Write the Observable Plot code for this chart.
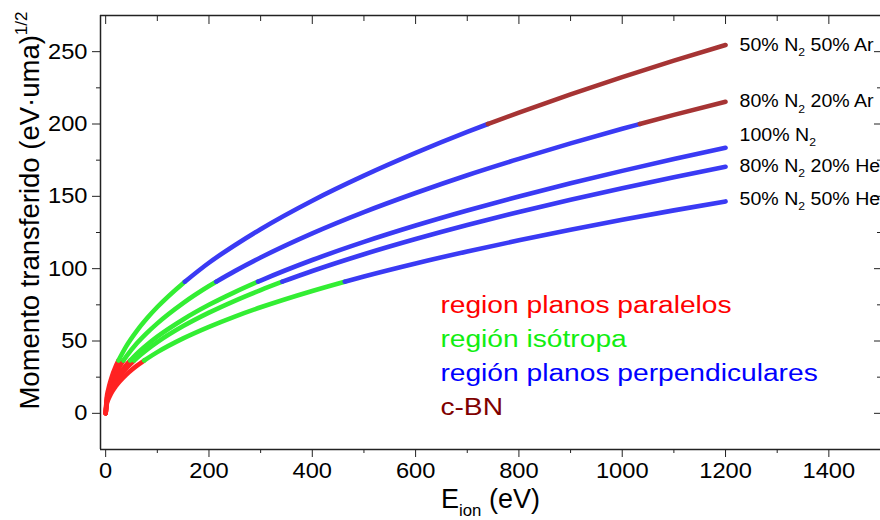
<!DOCTYPE html>
<html>
<head>
<meta charset="utf-8">
<script src="https://cdn.jsdelivr.net/npm/d3@7"></script>
<script src="https://cdn.jsdelivr.net/npm/@observablehq/plot@0.6"></script>
<style>
  body { margin: 0; background: #fff; }
  #chart svg { display: block; }
</style>
</head>
<body>
<div id="chart"></div>
<script>
// ---- data ----
const curveNames = ["50% N_{2} 50% Ar", "80% N_{2} 20% Ar", "100% N_{2}", "80% N_{2} 20% He", "50% N_{2} 50% He"];

const E_50Ar = [0, 2, 5, 10, 20, 24.7, 40, 60, 80, 100, 150, 153.3, 200, 250, 300, 400, 500, 600, 700, 740, 800, 900, 1000, 1100, 1200];
const p_50Ar = [0, 10.4, 16.4, 23.2, 32.9, 36.5, 46.5, 56.9, 65.7, 73.5, 90.0, 91, 104.1, 116.2, 127.3, 147.0, 164.3, 180.0, 194.5, 200, 207.9, 220.5, 232.4, 243.8, 254.6];

const E_20Ar = [0, 2, 5, 10, 20, 34.4, 40, 60, 80, 100, 150, 200, 214, 250, 300, 400, 500, 600, 700, 800, 900, 1000, 1034, 1100, 1200];
const p_20Ar = [0, 8.8, 13.9, 19.7, 27.8, 36.5, 39.3, 48.2, 55.6, 62.2, 76.2, 88.0, 91, 98.3, 107.7, 124.4, 139.1, 152.3, 164.6, 175.9, 186.6, 196.7, 200, 206.3, 215.4];

const E_N2 = [0, 2, 5, 10, 20, 40, 47.4, 60, 80, 100, 150, 200, 250, 294.8, 300, 400, 500, 600, 700, 800, 900, 1000, 1100, 1200];
const p_N2 = [0, 7.5, 11.9, 16.8, 23.7, 33.5, 36.5, 41.1, 47.4, 53.0, 64.9, 75.0, 83.8, 91, 91.8, 106.0, 118.5, 129.8, 140.2, 149.9, 159.0, 167.6, 175.8, 183.6];

const E_20He = [0, 2, 5, 10, 20, 40, 55, 60, 80, 100, 150, 200, 250, 300, 342, 400, 500, 600, 700, 800, 900, 1000, 1100, 1200];
const p_20He = [0, 7.0, 11.0, 15.6, 22.0, 31.1, 36.5, 38.1, 44.0, 49.2, 60.3, 69.6, 77.8, 85.2, 91, 98.4, 110.0, 120.5, 130.2, 139.2, 147.6, 155.6, 163.2, 170.4];

const E_50He = [0, 2, 5, 10, 20, 40, 60, 74.5, 80, 100, 150, 200, 250, 300, 400, 462.8, 500, 600, 700, 800, 900, 1000, 1100, 1200];
const p_50He = [0, 6.0, 9.5, 13.4, 18.9, 26.8, 32.8, 36.5, 37.8, 42.3, 51.8, 59.8, 66.9, 73.3, 84.6, 91, 94.6, 103.6, 111.9, 119.6, 126.9, 133.8, 140.3, 146.5];

const regionNames = ["region planos paralelos", "región isótropa", "región planos perpendiculares", "c-BN"];
const regionLimits = [0, 36.5, 91, 200, 1000];

const xMajorTicks = [0, 200, 400, 600, 800, 1000, 1200, 1400];
const xMinorTicks = [100, 300, 500, 700, 900, 1100, 1300];
const yMajorTicks = [0, 50, 100, 150, 200, 250];
const yMinorTicks = [25, 75, 125, 175, 225];

// ---- styles ----
const lineColors = ["#ff2222", "#33ee33", "#3a3af4", "#a63434"];
const textColors = ["#ff0000", "#11ee11", "#0000ff", "#800000"];
const axisColor = "#222";

const curves = [
  {name: curveNames[0], E: E_50Ar, p: p_50Ar},
  {name: curveNames[1], E: E_20Ar, p: p_20Ar},
  {name: curveNames[2], E: E_N2, p: p_N2},
  {name: curveNames[3], E: E_20He, p: p_20He},
  {name: curveNames[4], E: E_50He, p: p_50He}
];
const rows = curves.flatMap(c => c.E.map((e, i) => ({curve: c.name, E: e, p: c.p[i]})));

const lineMarks = regionNames.map((r, k) =>
  Plot.line(rows.filter(d => d.p >= regionLimits[k] && d.p <= regionLimits[k + 1]), {
    x: "E", y: "p", z: "curve", stroke: lineColors[k], strokeWidth: 4.6, curve: "monotone-x"
  })
);

const labelNudge = [0, 0, 8.8, 0.6, 1.7];
const fmt = d => String(d);

const chart = Plot.plot({
  width: 880,
  height: 520,
  marginLeft: 100,
  marginRight: 0,
  marginTop: 15,
  marginBottom: 71,
  style: {fontFamily: "'Liberation Sans', Arial, sans-serif", background: "#fff", color: "#000"},
  x: {domain: [-10, 1500]},
  y: {domain: [-25, 275]},
  marks: [
    // frame
    Plot.ruleX([-10], {stroke: axisColor, strokeWidth: 1.5}),
    Plot.ruleY([-25, 275], {stroke: axisColor, strokeWidth: 1.5}),
    // bottom axis
    Plot.axisX(xMajorTicks, {anchor: "bottom", tickSize: 8, tickPadding: 5, fontSize: 21.5, tickFormat: fmt, label: null, stroke: axisColor}),
    Plot.axisX(xMinorTicks, {anchor: "bottom", tickSize: 4, tickFormat: () => "", label: null, stroke: axisColor}),
    // top axis (inward)
    Plot.axisX(xMajorTicks, {anchor: "top", tickSize: 8, dy: 8, tickFormat: () => "", label: null, stroke: axisColor}),
    Plot.axisX(xMinorTicks, {anchor: "top", tickSize: 5, dy: 5, tickFormat: () => "", label: null, stroke: axisColor}),
    // left axis
    Plot.axisY(yMajorTicks, {anchor: "left", tickSize: 8, tickPadding: 5, fontSize: 21.5, tickFormat: fmt, label: null, stroke: axisColor}),
    Plot.axisY(yMinorTicks, {anchor: "left", tickSize: 4, tickFormat: () => "", label: null, stroke: axisColor}),
    // right axis (inward)
    Plot.axisY(yMajorTicks, {anchor: "right", tickSize: 7, dx: -7, tickFormat: () => "", label: null, stroke: axisColor}),
    Plot.axisY(yMinorTicks, {anchor: "right", tickSize: 4, dx: -4, tickFormat: () => "", label: null, stroke: axisColor}),
    // curves
    ...lineMarks,
    // curve labels
    Plot.text(curves, {
      x: d => d.E[d.E.length - 1],
      y: (d, i) => d.p[d.p.length - 1] + labelNudge[i],
      text: "name", dx: 14, textAnchor: "start", lineAnchor: "middle",
      fontSize: 17.5, fill: "#000"
    }),
    // legend texts
    ...regionNames.map((t, i) => Plot.text([t], {
      x: 648, y: 74.8 - i * 23.5, textAnchor: "start", lineAnchor: "middle",
      fontSize: 24.5, fill: textColors[i]
    })),
    // axis titles
    Plot.text(["Momento transferido (eV·uma)^{1/2}"], {
      frameAnchor: "left", rotate: -90, dx: -70, dy: -22, textAnchor: "middle", lineAnchor: "middle",
      fontSize: 27.5, fill: "#000"
    }),
    Plot.text(["E_{ion} (eV)"], {
      frameAnchor: "bottom", dy: 50, textAnchor: "middle", lineAnchor: "middle",
      fontSize: 27, fill: "#000"
    })
  ]
});

document.getElementById("chart").appendChild(chart);

// sub/superscript rendering: any text carrying _{..} or ^{..}
function richText(el) {
  const fs = parseFloat(getComputedStyle(el).fontSize) || 16;
  const src = el.textContent;
  while (el.firstChild) el.removeChild(el.firstChild);
  let shift = 0;
  src.split(/([_^]\{[^}]*\})/).filter(s => s.length).forEach(tok => {
    const ts = document.createElementNS("http://www.w3.org/2000/svg", "tspan");
    let target = 0, small = false, txt = tok;
    if (tok.startsWith("_{")) { target = 0.3 * fs; small = true; txt = tok.slice(2, -1); }
    else if (tok.startsWith("^{")) { target = -0.45 * fs; small = true; txt = tok.slice(2, -1); }
    if (target !== shift) ts.setAttribute("dy", (target - shift).toFixed(2));
    if (small) ts.setAttribute("font-size", (0.62 * fs).toFixed(2));
    ts.textContent = txt;
    el.appendChild(ts);
    shift = target;
  });
}
function stretch(el, k) {
  const t = el.getAttribute("transform") || "";
  el.setAttribute("transform", t + ` scale(${k},1)`);
}
chart.querySelectorAll("text").forEach(el => {
  const s = el.textContent;
  const isCurveLabel = curveNames.includes(s);
  const isLegend = regionNames.includes(s);
  const isTick = /^-?\d+$/.test(s);
  if (/[_^]\{/.test(s)) richText(el);
  if (isCurveLabel) stretch(el, 1.12);
  if (isLegend) stretch(el, 1.15);
  if (isTick) stretch(el, 1.1);
});
</script>
</body>
</html>
